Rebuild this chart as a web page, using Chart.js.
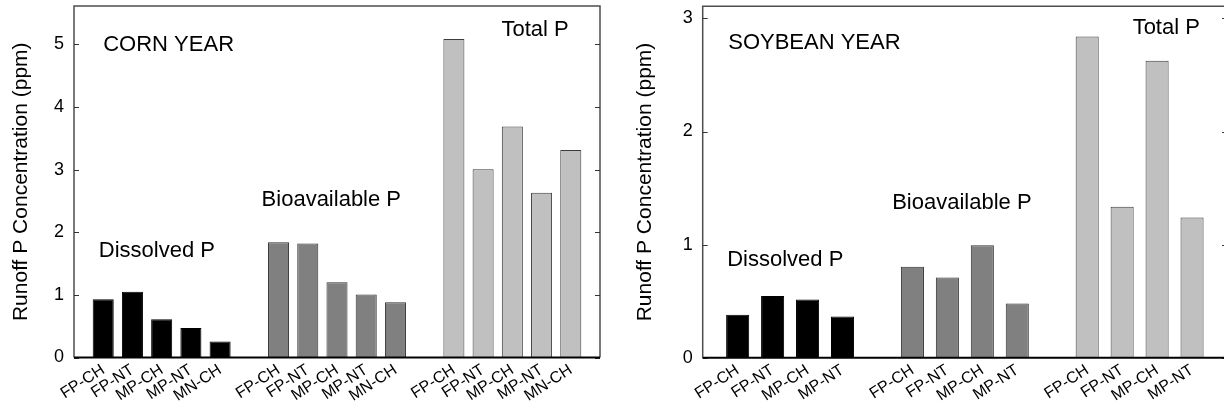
<!DOCTYPE html>
<html>
<head>
<meta charset="utf-8">
<script src="https://cdn.jsdelivr.net/npm/chart.js@4/dist/chart.umd.min.js"></script>
<style>
  html, body { margin: 0; padding: 0; background: #fff; }
  #wrap { position: relative; width: 1224px; height: 408px; overflow: hidden; }
  #corn { position: absolute; left: 0; top: 0; }
  #soy { position: absolute; left: 612px; top: 0; }
</style>
</head>
<body>
<div id="wrap">
  <canvas id="corn" width="612" height="408"></canvas>
  <canvas id="soy" width="640" height="408"></canvas>
</div>
<script>
// treatments
const cornTreatments = ['FP-CH', 'FP-NT', 'MP-CH', 'MP-NT', 'MN-CH'];
const soyTreatments = ['FP-CH', 'FP-NT', 'MP-CH', 'MP-NT'];

// runoff P, ppm
const cornDissolved = [0.93, 1.05, 0.61, 0.47, 0.255];
const cornBioavailable = [1.84, 1.82, 1.20, 1.005, 0.88];
const cornTotal = [5.085, 3.005, 3.685, 2.63, 3.31];

const soyDissolved = [0.38, 0.545, 0.515, 0.365];
const soyBioavailable = [0.805, 0.71, 0.995, 0.48];
const soyTotal = [2.84, 1.335, 2.625, 1.24];

const cornTicks = [0, 1, 2, 3, 4, 5];
const soyTicks = [0, 1, 2, 3];

const font = '"Liberation Sans", Arial, sans-serif';

// one empty slot before, between and after the groups
function slotLabels(names, nGroups) {
  let out = [''];
  for (let g = 0; g < nGroups; g++) {
    out = out.concat(names);
    out.push('');
  }
  return out;
}

function groupData(values, g, n, total) {
  const arr = new Array(total).fill(null);
  const start = 1 + g * (n + 1);
  values.forEach((v, i) => { arr[start + i] = v; });
  return arr;
}

function framePlugin(notes, tickVals) {
  return {
    id: 'frame',
    afterDatasetsDraw(chart) {
      const {ctx, chartArea: a, scales: {x, y}} = chart;
      ctx.save();
      ctx.strokeStyle = '#4d4d4d';
      ctx.lineWidth = 1.5;
      ctx.beginPath();
      ctx.moveTo(a.left, a.bottom);
      ctx.lineTo(a.left, a.top);
      ctx.lineTo(a.right, a.top);
      ctx.lineTo(a.right, a.bottom);
      ctx.stroke();
      ctx.lineWidth = 1;
      ctx.strokeStyle = '#333';
      for (const v of tickVals) {
        const py = Math.round(y.getPixelForValue(v)) + 0.5;
        ctx.beginPath();
        ctx.moveTo(a.left, py); ctx.lineTo(a.left + 5, py);
        ctx.moveTo(a.right - 5, py); ctx.lineTo(a.right, py);
        ctx.stroke();
      }
      ctx.strokeStyle = '#000';
      ctx.lineWidth = 2;
      ctx.beginPath();
      ctx.moveTo(a.left, a.bottom);
      ctx.lineTo(a.right, a.bottom);
      ctx.stroke();

      ctx.fillStyle = '#000';
      ctx.font = '22px ' + font;
      ctx.textAlign = 'left';
      ctx.textBaseline = 'alphabetic';
      for (const n of notes) {
        ctx.fillText(n.text, x.getPixelForValue(n.x), y.getPixelForValue(n.y) + 0.358 * 22);
      }
      ctx.restore();
    }
  };
}

function makeChart(id, names, groups, yMax, tickVals, barPct, box, notes) {
  const labels = slotLabels(names, groups.length);
  const fills = ['#000000', '#808080', '#c0c0c0'];
  const borders = ['#000000', '#2e2e2e', '#3c3c3c'];
  const datasets = groups.map((vals, g) => ({
    data: groupData(vals, g, names.length, labels.length),
    backgroundColor: fills[g],
    borderColor: borders[g],
    borderWidth: 1,
    grouped: false,
    categoryPercentage: 1,
    barPercentage: barPct
  }));
  return new Chart(document.getElementById(id), {
    type: 'bar',
    data: { labels: labels, datasets: datasets },
    options: {
      responsive: false,
      animation: false,
      layout: { padding: { top: box.top, right: box.right, left: 0, bottom: 0 } },
      plugins: { legend: { display: false }, tooltip: { enabled: false } },
      scales: {
        x: {
          offset: false,
          grid: { display: false, drawTicks: false },
          border: { display: false },
          ticks: {
            autoSkip: false, maxRotation: 33, minRotation: 33, padding: 3,
            color: '#000', font: { family: font, size: 16 }
          },
          afterFit: s => { s.height = box.xh; s.paddingLeft = 0; s.paddingRight = 0; }
        },
        y: {
          min: 0, max: yMax,
          grid: { display: false, drawTicks: false },
          border: { display: false },
          afterBuildTicks: s => { s.ticks = tickVals.map(v => ({ value: v })); },
          ticks: { padding: 10, color: '#000', font: { family: font, size: 18 } },
          title: {
            display: true, text: 'Runoff P Concentration (ppm)', color: '#000',
            font: { family: font, size: 21 }, padding: { top: box.tp, bottom: 0 }
          },
          afterFit: s => { s.width = box.yw; s.paddingTop = 0; s.paddingBottom = 0; }
        }
      }
    },
    plugins: [framePlugin(notes, tickVals)]
  });
}

makeChart('corn', cornTreatments, [cornDissolved, cornBioavailable, cornTotal], 5.61, cornTicks, 0.72,
  { top: 6, right: 12, xh: 50.5, yw: 74, tp: 8.6 },
  [
    { text: 'CORN YEAR', x: 1.0, y: 5.01 },
    { text: 'Total P', x: 14.63, y: 5.26 },
    { text: 'Bioavailable P', x: 6.42, y: 2.55 },
    { text: 'Dissolved P', x: 0.85, y: 1.735 }
  ]);

makeChart('soy', soyTreatments, [soyDissolved, soyBioavailable, soyTotal], 3.107, soyTicks, 0.66,
  { top: 6.3, right: 25, xh: 50.3, yw: 90.7, tp: 20.8 },
  [
    { text: 'SOYBEAN YEAR', x: 0.73, y: 2.797 },
    { text: 'Total P', x: 12.3, y: 2.935 },
    { text: 'Bioavailable P', x: 5.42, y: 1.387 },
    { text: 'Dissolved P', x: 0.70, y: 0.88 }
  ]);
</script>
</body>
</html>
